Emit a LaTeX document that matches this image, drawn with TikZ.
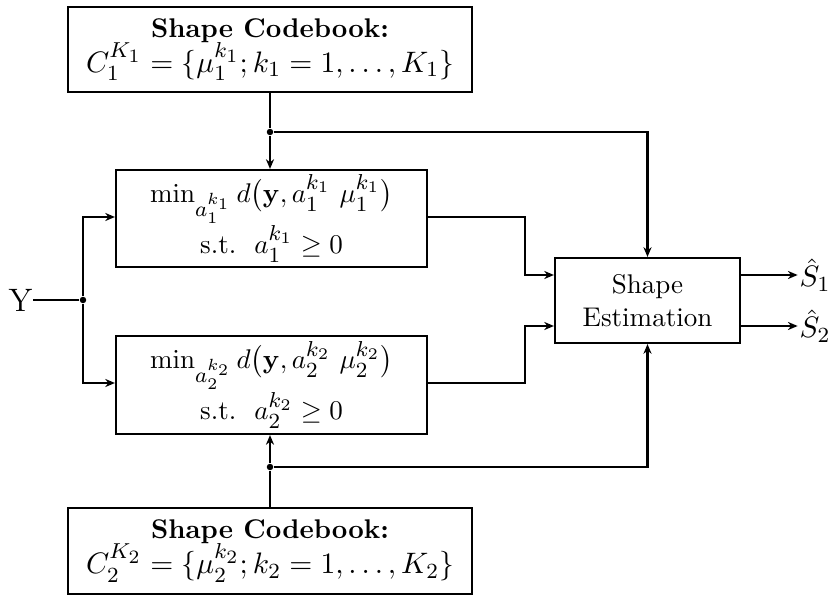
\documentclass[tikz,border=0pt]{standalone}
\usepackage{amsmath,amssymb}
\DeclareMathSizes{10}{10}{7.6}{6.3}
\DeclareMathSizes{10.6}{10.6}{8}{6.6}
\usetikzlibrary{arrows.meta}
\begin{document}
\begin{tikzpicture}[x=0.37pt,y=-0.37pt,
  blk/.style={draw,line width=0.8pt,inner sep=0pt,align=center},
  conn/.style={line width=0.8pt},
  arr/.style={line width=0.8pt,-{Stealth[length=3.6pt,width=3pt]}},
  jdot/.style={circle,fill,inner sep=0pt,minimum size=2.4pt}]
\useasboundingbox (0,0) rectangle (829,597);
\node[blk,minimum width=404*0.37pt,minimum height=85*0.37pt] (cb1) at (270,49.5)
  {\textbf{Shape Codebook:}\\[-1pt] {\fontsize{10.6}{13}\selectfont $C_1^{K_1}=\{\mu_1^{k_1};k_1=1,\ldots,K_1\}$}};
\node[blk,minimum width=404*0.37pt,minimum height=86*0.37pt] (cb2) at (270,551)
  {\textbf{Shape Codebook:}\\[-1pt] {\fontsize{10.6}{13}\selectfont $C_2^{K_2}=\{\mu_2^{k_2};k_2=1,\ldots,K_2\}$}};
\node[blk,minimum width=311*0.37pt,minimum height=97*0.37pt] (m1) at (271.5,218.5)
  {$\min_{a_1^{k_1}} d\big(\mathbf{y},a_1^{k_1}\ \mu_1^{k_1}\big)$\\ s.t.\ \ $a_1^{k_1}\geq 0$};
\node[blk,minimum width=311*0.37pt,minimum height=98*0.37pt] (m2) at (271.5,385)
  {$\min_{a_2^{k_2}} d\big(\mathbf{y},a_2^{k_2}\ \mu_2^{k_2}\big)$\\ s.t.\ \ $a_2^{k_2}\geq 0$};
\node[blk,minimum width=185*0.37pt,minimum height=85*0.37pt] (se) at (647.5,300.5)
  {Shape\\Estimation};
\node[inner sep=0pt,anchor=east] (y) at (33,300) {\large Y};
\node[inner sep=0pt,anchor=west,font=\fontsize{11}{13}\selectfont] (s1) at (799,275) {$\hat S_1$};
\node[inner sep=0pt,anchor=west,font=\fontsize{11}{13}\selectfont] (s2) at (799,326) {$\hat S_2$};
% junctions
\node[jdot] (j1) at (270,132) {};
\node[jdot] (j2) at (270,467) {};
\node[jdot] (jy) at (83,300) {};
% codebook 1
\draw[conn] (cb1.south -| j1) -- (j1);
\draw[arr] (j1) -- (j1 |- m1.north);
\draw[arr] (j1) -| (se.north);
% codebook 2
\draw[conn] (cb2.north -| j2) -- (j2);
\draw[arr] (j2) -- (j2 |- m2.south);
\draw[arr] (j2) -| (se.south);
% input
\draw[conn] (y.east) -- (jy);
\draw[arr] (jy) |- (m1.west |- 0,217);
\draw[arr] (jy) |- (m2.west |- 0,383);
% to shape estimation
\coordinate (c1) at (525,217);
\coordinate (c2) at (525,383);
\draw[arr] (m1.east |- c1) -- (c1) |- (se.west |- 0,275);
\draw[arr] (m2.east |- c2) -- (c2) |- (se.west |- 0,326);
% outputs
\draw[arr] (se.east |- s1) -- ([xshift=-0.5pt]s1.west);
\draw[arr] (se.east |- s2) -- ([xshift=-0.5pt]s2.west);
\end{tikzpicture}
\end{document}
